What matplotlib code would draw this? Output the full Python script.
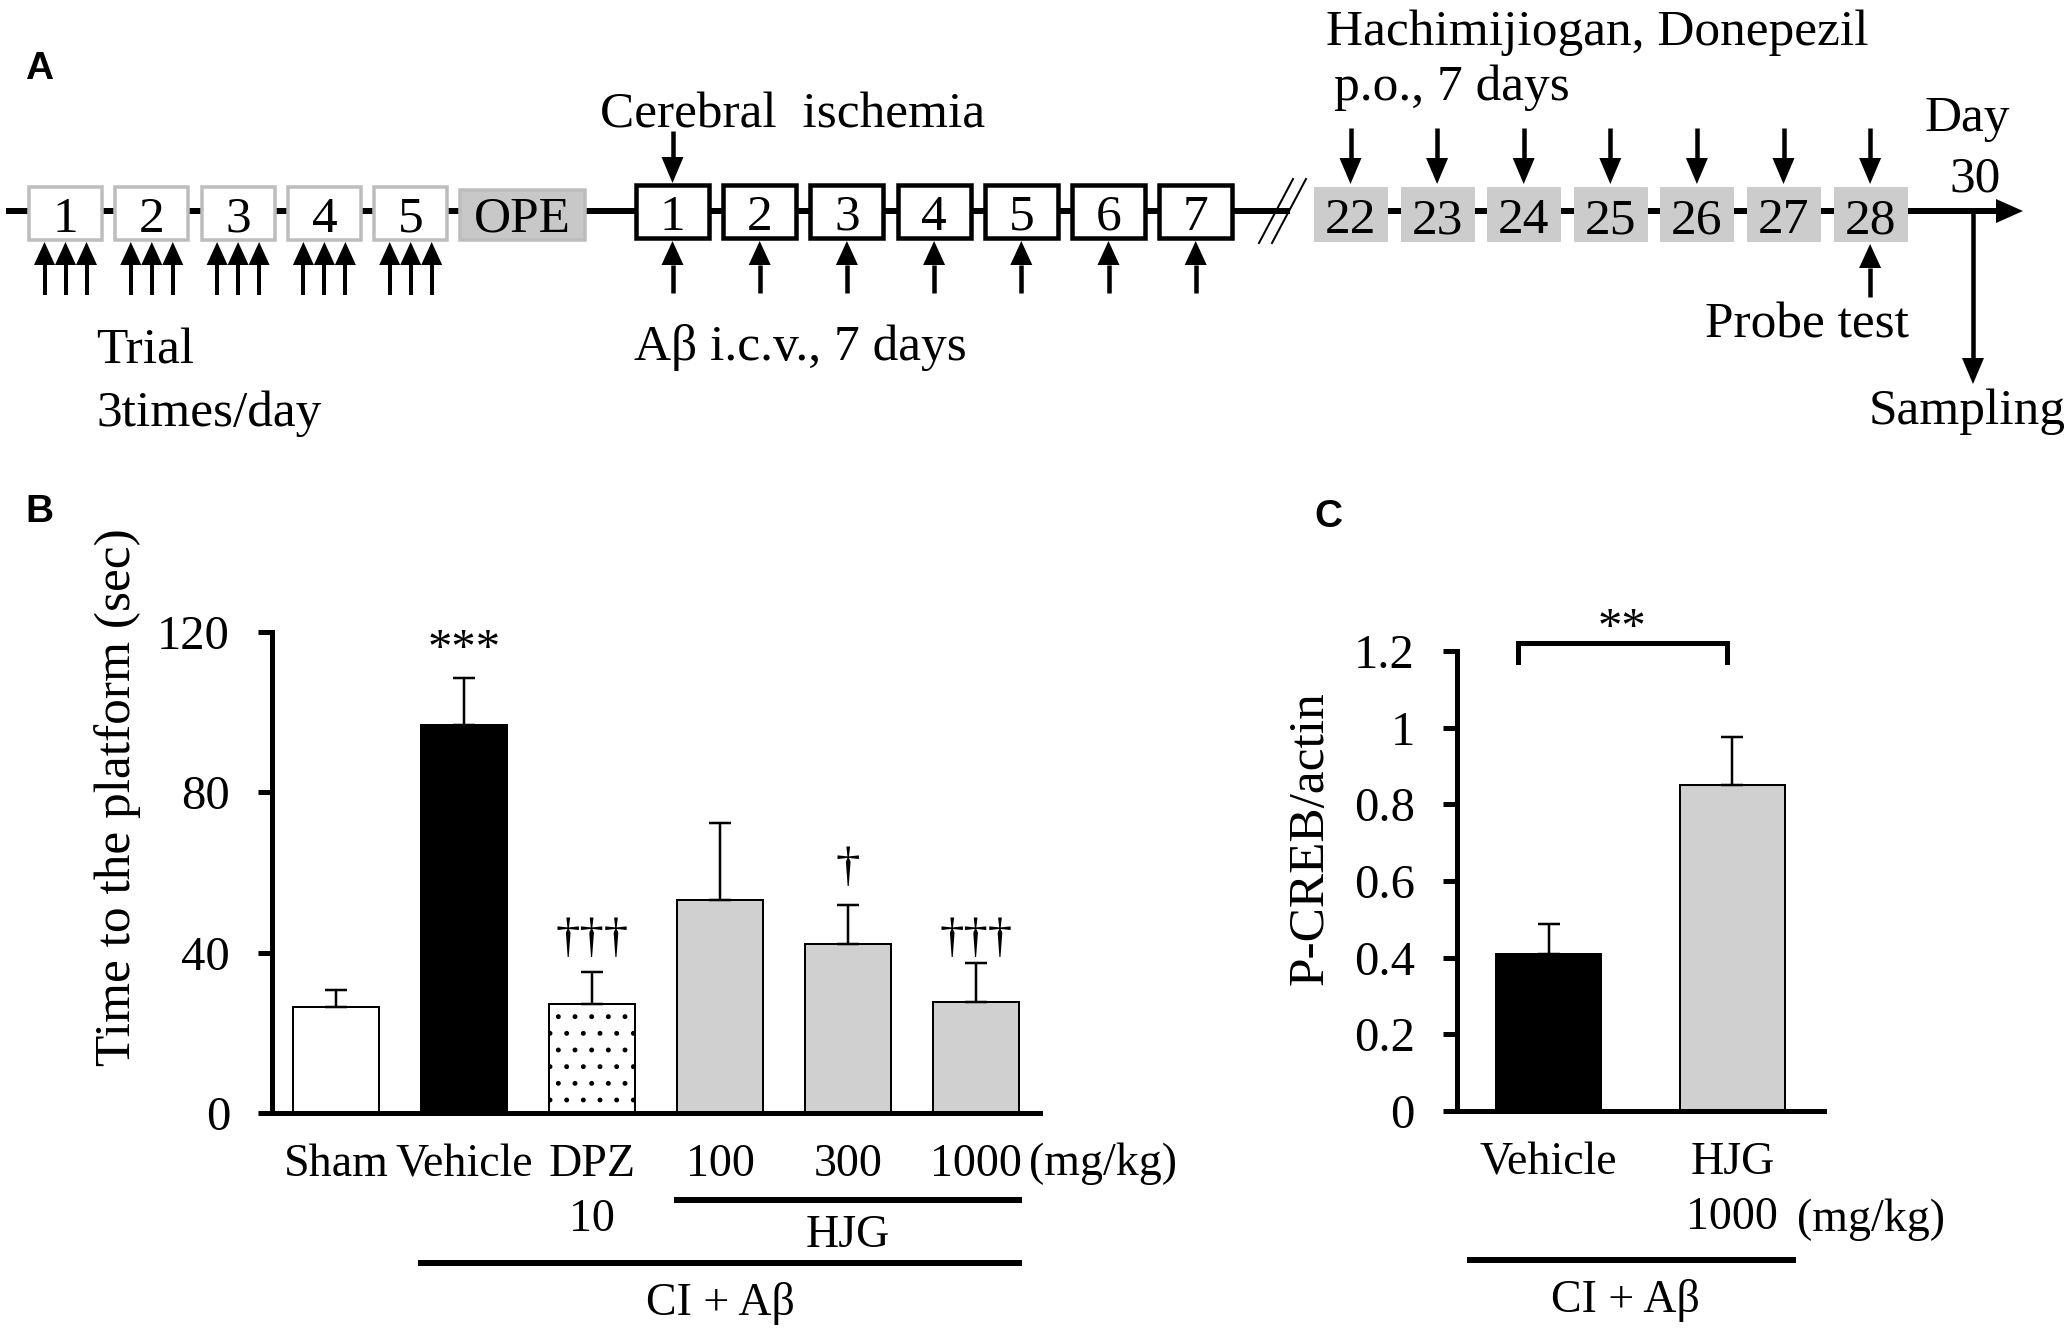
import numpy as np
import matplotlib
matplotlib.use("Agg")
import matplotlib.pyplot as plt
from matplotlib.patches import Rectangle
from matplotlib import transforms

plt.rcParams['font.family'] = ['Liberation Serif', 'DejaVu Serif']
plt.rcParams['hatch.linewidth'] = 1.1
plt.rcParams['hatch.color'] = 'black'

# ---- data ----
trial_days = ['1', '2', '3', '4', '5']
abeta_days = ['1', '2', '3', '4', '5', '6', '7']
drug_days = ['22', '23', '24', '25', '26', '27', '28']

b_groups = ['Sham', 'Vehicle', 'DPZ\n10', '100', '300', '1000']
b_means = [26.4, 96.9, 27.1, 53.1, 42.1, 27.6]
b_sem = [4.4, 11.6, 8.1, 19.3, 9.7, 9.7]
b_marks = ['', '***', '\u2020\u2020\u2020', '', '\u2020', '\u2020\u2020\u2020']
b_mark_y = [0, 115.5, 43.5, 0, 61.1, 43.5]
b_colors = ['white', 'black', 'white', '#d0d0d0', '#d0d0d0', '#d0d0d0']
b_hatch = [None, None, '.', None, None, None]
b_yticks = [0, 40, 80, 120]

c_groups = ['Vehicle', 'HJG\n1000']
c_means = [0.41, 0.85]
c_sem = [0.079, 0.126]
c_colors = ['black', '#d0d0d0']
c_yticks = [0, 0.2, 0.4, 0.6, 0.8, 1, 1.2]
c_yticklabels = ['0', '0.2', '0.4', '0.6', '0.8', '1', '1.2']

W, H = 2070, 1336
PT = 0.72  # points per pixel at dpi 100

fig = plt.figure(figsize=(W / 100, H / 100), dpi=100)


def fig_rect(x0, y0, x1, y1):
    return [x0 / W, 1 - y1 / H, (x1 - x0) / W, (y1 - y0) / H]


def style_axes(ax):
    for s in ['top', 'right']:
        ax.spines[s].set_visible(False)
    for s in ['left', 'bottom']:
        ax.spines[s].set_linewidth(5 * PT)
    ax.tick_params(axis='y', direction='out', length=14 * PT, width=5 * PT,
                   pad=28 * PT, labelsize=35)
    ax.tick_params(axis='x', length=0, pad=31 * PT, labelsize=33)


# ---- panel B ----
axb = fig.add_axes(fig_rect(272, 632, 1040, 1113))
xb = np.arange(len(b_groups))
bars = axb.bar(xb, b_means, width=0.67, color=b_colors, edgecolor='black',
               linewidth=2 * PT, zorder=2)
for bar, h in zip(bars, b_hatch):
    if h:
        bar.set_hatch(h)
axb.errorbar(xb, b_means, yerr=[np.zeros(len(b_sem)), b_sem], fmt='none',
             ecolor='black', elinewidth=2.5 * PT, capsize=11 * PT,
             capthick=2.5 * PT, zorder=3)
for x, m, y in zip(xb, b_marks, b_mark_y):
    if m:
        axb.text(x, y, m, ha='center', va='center', fontsize=35)
axb.set_xlim(-0.5, 5.5)
axb.set_ylim(0, 120)
axb.set_yticks(b_yticks)
axb.set_xticks(xb)
axb.set_xticklabels(b_groups, linespacing=1.38)
style_axes(axb)
axb.set_ylabel('Time to the platform (sec)', fontsize=37)
axb.yaxis.set_label_coords(-0.171, 0.657)

# ---- panel C ----
axc = fig.add_axes(fig_rect(1457, 651, 1824, 1111))
xc = np.arange(len(c_groups))
axc.bar(xc, c_means, width=0.57, color=c_colors, edgecolor='black',
        linewidth=2 * PT, zorder=2)
axc.errorbar(xc, c_means, yerr=[np.zeros(len(c_sem)), c_sem], fmt='none',
             ecolor='black', elinewidth=2.5 * PT, capsize=11 * PT,
             capthick=2.5 * PT, zorder=3)
axc.set_xlim(-0.5, 1.5)
axc.set_ylim(0, 1.2)
axc.set_yticks(c_yticks)
axc.set_yticklabels(c_yticklabels)
axc.set_xticks(xc)
axc.set_xticklabels(c_groups, linespacing=1.38)
style_axes(axc)
axc.set_ylabel('P-CREB/actin', fontsize=37)
axc.yaxis.set_label_coords(-0.335, 0.593)
# significance bracket
axc.plot([-0.17, -0.17, 0.97, 0.97], [1.171, 1.221, 1.221, 1.171], color='black',
         lw=5 * PT, clip_on=False, solid_joinstyle='miter')
axc.text(0.4, 1.257, '**', ha='center', va='center', fontsize=35)

# ---- overlay in pixel coordinates (panel A and group labels) ----
ov = fig.add_axes([0, 0, 1, 1])
ov.set_xlim(0, W)
ov.set_ylim(H, 0)
ov.axis('off')
ov.patch.set_alpha(0)

tb = transforms.blended_transform_factory(axb.transData, ov.transData)
tc = transforms.blended_transform_factory(axc.transData, ov.transData)

ov.text(1029, 1175, '(mg/kg)', ha='left', va='baseline', fontsize=33)
ov.plot([3 - 0.335, 5 + 0.335], [1200, 1200], color='black', lw=6 * PT, transform=tb)
ov.text(4, 1247, 'HJG', ha='center', va='baseline', fontsize=33, transform=tb)
ov.plot([1 - 0.335, 5 + 0.335], [1263, 1263], color='black', lw=6 * PT, transform=tb)
ov.text(3, 1315, 'CI + A\u03b2', ha='center', va='baseline', fontsize=33, transform=tb)

ov.text(1797, 1231, '(mg/kg)', ha='left', va='baseline', fontsize=33)
ov.plot([-0.43, 1.33], [1260, 1260], color='black', lw=6 * PT, transform=tc)
ov.text(0.42, 1312, 'CI + A\u03b2', ha='center', va='baseline', fontsize=33, transform=tc)

# panel letters
for lab, x, y in [('A', 25, 79), ('B', 25, 522), ('C', 1314, 527)]:
    ov.text(x, y, lab, ha='left', va='baseline', fontsize=28, fontweight='bold',
            family='Liberation Sans')

# timeline
LINE_Y = 211
BW = 73
ov.plot([6, 1290], [LINE_Y, LINE_Y], color='black', lw=6 * PT, solid_capstyle='butt', zorder=1)
ov.plot([1314, 1998], [LINE_Y, LINE_Y], color='black', lw=6 * PT, solid_capstyle='butt', zorder=1)
ov.fill([1996, 1996, 2023], [LINE_Y - 12, LINE_Y + 12, LINE_Y], color='black', lw=0)
# break marks
for dx in [0, 13]:
    ov.plot([1259 + dx, 1293 + dx], [243, 179], color='black', lw=2 * PT, zorder=3)


def arrow(x, y_tail, y_tip, head_l=24, head_w=22, lw=4.5):
    d = np.sign(y_tip - y_tail)
    base = y_tip - d * head_l
    ov.plot([x, x], [y_tail, base], color='black', lw=lw * PT, solid_capstyle='butt')
    ov.fill([x - head_w / 2, x + head_w / 2, x], [base, base, y_tip], color='black', lw=0)


def box(x, y, w, h, label, face, edge, elw):
    ov.add_patch(Rectangle((x, y), w, h, facecolor=face, edgecolor=edge,
                           linewidth=elw * PT, zorder=2))
    ov.text(x + w / 2, y + h - 8, label, ha='center', va='baseline', fontsize=37, zorder=4)


trial_x = [29 + 86.3 * i for i in range(len(trial_days))]
for x, lab in zip(trial_x, trial_days):
    box(x, 187, BW, 53, lab, 'white', '#bdbdbd', 3.5)
    for off in (-21, 0, 21):
        arrow(x + BW / 2 + off, 295, 242, head_l=23, head_w=21, lw=4)
box(460, 190, 125, 50, 'OPE', '#c8c8c8', '#bdbdbd', 3.5)

abeta_x = [636 + 87.2 * i for i in range(len(abeta_days))]
for x, lab in zip(abeta_x, abeta_days):
    box(x, 185, BW, 53, lab, 'white', 'black', 4.5)
    arrow(x + BW / 2, 293, 241)
arrow(abeta_x[0] + BW / 2, 131, 183, head_l=26)

drug_x = [1314 + 86.6 * i for i in range(len(drug_days))]
for x, lab in zip(drug_x, drug_days):
    box(x, 187, BW, 54, lab, '#cccccc', '#cccccc', 1)
    arrow(x + BW / 2, 128, 184, head_l=26)
arrow(drug_x[-1] + BW / 2, 297, 244)
arrow(1973, LINE_Y, 384, head_l=26)

ov.text(793, 127, 'Cerebral  ischemia', ha='center', va='baseline', fontsize=37)
ov.text(800, 360, 'A\u03b2 i.c.v., 7 days', ha='center', va='baseline', fontsize=37)
ov.text(96, 363, 'Trial', ha='left', va='baseline', fontsize=37)
ov.text(96, 426, '3times/day', ha='left', va='baseline', fontsize=37)
ov.text(1597, 45, 'Hachimijiogan, Donepezil', ha='center', va='baseline', fontsize=37)
ov.text(1334, 100, 'p.o., 7 days', ha='left', va='baseline', fontsize=37)
ov.text(1967, 131, 'Day', ha='center', va='baseline', fontsize=37)
ov.text(1975, 192, '30', ha='center', va='baseline', fontsize=37)
ov.text(1807, 337, 'Probe test', ha='center', va='baseline', fontsize=37)
ov.text(1967, 424, 'Sampling', ha='center', va='baseline', fontsize=37)

fig.savefig('out.png', dpi=100, facecolor='white')
